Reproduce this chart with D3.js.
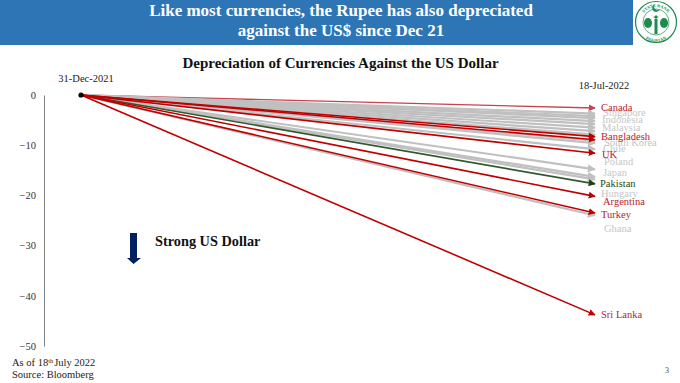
<!DOCTYPE html>
<html><head><meta charset="utf-8">
<script src="https://cdn.jsdelivr.net/npm/d3@7/dist/d3.min.js"></script>
<style>html,body{margin:0;padding:0;background:#fff}svg{display:block}text{font-family:"Liberation Serif",serif}</style>
</head><body><div id="c"></div>
<script>
const startLabel = "31-Dec-2021";
const endLabel = "18-Jul-2022";
const yTicks = [0,-10,-20,-30,-40,-50];
const greyNames = ["Singapore","Indonesia","Malaysia","South Korea","Chile","Poland","Japan","Hungary","Ghana","","","","","",""];
const greyValues = [-3.7,-4.6,-5.8,-9.6,-10.8,-14.8,-16.3,-16.8,-24.0,-4.2,-5.2,-6.5,-7.2,-7.9,-9.1];
const redNames = ["Bangladesh","","UK","Argentina","Turkey","Sri Lanka"];
const redValues = [-8.3,-8.9,-11.6,-20.2,-23.5,-43.8];
const canadaNames = ["Canada"];
const canadaValues = [-2.6];
const greenNames = ["Pakistan"];
const greenValues = [-17.7];

const W=680,H=383;
const svg=d3.select("#c").append("svg").attr("width",W).attr("height",H);
const y=d3.scaleLinear().domain([0,-50]).range([95,346]);
const x=d3.scaleLinear().domain([0,1]).range([81,595]);

// header
svg.append("rect").attr("x",0).attr("y",0).attr("width",633).attr("height",45).attr("fill","#2e75b6");
svg.append("text").attr("x",341).attr("y",16).attr("text-anchor","middle").attr("fill","#fff")
  .attr("font-size",17).attr("font-weight","bold").text("Like most currencies, the Rupee has also depreciated");
svg.append("text").attr("x",341).attr("y",36).attr("text-anchor","middle").attr("fill","#fff")
  .attr("font-size",17).attr("font-weight","bold").text("against the US$ since Dec 21");

// logo seal
const logo=svg.append("g").attr("transform","translate(656,22)");
const G="#1d8a4e";
logo.append("circle").attr("r",20.5).attr("fill","#fff").attr("stroke",G).attr("stroke-width",1.2);
logo.append("circle").attr("r",13).attr("fill","none").attr("stroke",G).attr("stroke-width",0.7);
logo.append("path").attr("d","M-1.5,12V-3H1.5V12Z").attr("fill",G);
logo.append("ellipse").attr("cx",-8).attr("cy",1).attr("rx",4).attr("ry",5).attr("fill",G);
logo.append("ellipse").attr("cx",8).attr("cy",1).attr("rx",4).attr("ry",5).attr("fill",G);
logo.append("path").attr("d","M-6,-8L0,-3L6,-8L2,-5L0,-7L-2,-5Z").attr("fill",G);
logo.append("path").attr("d","M-1,-18A4,4 0 1,0 4,-13A3.4,3.4 0 1,1 -1,-18Z").attr("fill",G);
logo.append("path").attr("id","sealTop").attr("d","M-15,0A15,15 0 0,1 15,0").attr("fill","none");
logo.append("path").attr("id","sealBot").attr("d","M-18,2A18,18 0 0,0 18,2").attr("fill","none");
logo.append("text").attr("font-size",4.4).attr("font-weight","bold").attr("fill",G)
  .append("textPath").attr("href","#sealTop").attr("startOffset","50%").attr("text-anchor","middle").text("STATE        BANK");
logo.append("text").attr("font-size",4.4).attr("font-weight","bold").attr("fill",G)
  .append("textPath").attr("href","#sealBot").attr("startOffset","50%").attr("text-anchor","middle").text("PAKISTAN");

// chart title
svg.append("text").attr("x",340.5).attr("y",68).attr("text-anchor","middle").attr("font-size",15)
  .attr("font-weight","bold").attr("fill","#111").text("Depreciation of Currencies Against the US Dollar");

// axis
const ax=svg.append("g").attr("transform","translate(44,0)")
  .call(d3.axisLeft(y).tickValues(yTicks).tickSize(0).tickPadding(8).tickFormat(d3.format("d")));
ax.select(".domain").attr("stroke","#7f7f7f").attr("stroke-width",1);
ax.selectAll("text").attr("font-size",10.5).attr("fill","#333").style("font-family",'"Liberation Serif",serif');

svg.append("text").attr("x",86).attr("y",82).attr("text-anchor","middle").attr("font-size",10.5).attr("fill","#222").text(startLabel);
svg.append("text").attr("x",604).attr("y",89).attr("text-anchor","middle").attr("font-size",10.5).attr("fill","#222").text(endLabel);

// arrow markers
const defs=svg.append("defs");
function marker(id,c,s){
  defs.append("marker").attr("id",id).attr("viewBox","0 0 10 10").attr("refX",9).attr("refY",5)
    .attr("markerUnits","userSpaceOnUse").attr("markerWidth",s).attr("markerHeight",s).attr("orient","auto")
    .append("path").attr("d","M0,0L10,5L0,10Z").attr("fill",c);
}
const RED="#c00000",GREY="#c0c0c0",GREEN="#2f5a2e";
marker("mg",GREY,8);marker("mr",RED,7);marker("mn","#1f3f1e",7);marker("mc","#c9404e",7);

function lines(vals,col,w,m){
  svg.append("g").selectAll("line").data(vals).join("line")
    .attr("x1",x(0)).attr("y1",y(0)).attr("x2",x(1)).attr("y2",d=>y(d))
    .attr("stroke",col).attr("stroke-width",w).attr("marker-end",`url(#${m})`);
}
lines(canadaValues,"#c9404e",1.4,"mc");
lines(greyValues,GREY,2.2,"mg");
lines(greenValues,GREEN,1.6,"mn");
lines(redValues,RED,1.6,"mr");
svg.append("circle").attr("cx",x(0)).attr("cy",y(0)).attr("r",2.6).attr("fill","#000");

// series labels: layout nudges in px, so crowded names sit as they do in the source
const nudge={Canada:[6,0],Singapore:[8,-1],Indonesia:[7,2],Malaysia:[7,4],Bangladesh:[6,0],"South Korea":[9,-1],
 Chile:[8,-1],UK:[7,1],Poland:[9,-8],Japan:[8,-4],Pakistan:[5,0],Hungary:[6,14],Argentina:[8,5],Turkey:[6,2],Ghana:[9,13],"Sri Lanka":[6,0]};
function labels(names,vals,col){
  names.forEach((n,i)=>{ if(!n) return;
    const d=nudge[n];
    svg.append("text").attr("x",x(1)+d[0]).attr("y",y(vals[i])+d[1]).attr("dy","0.32em")
      .attr("font-size",10.5).attr("fill",col).text(n);
  });
}
labels(greyNames,greyValues,"#c6c6c6");
labels(greenNames,greenValues,"#1f4a20");
labels(canadaNames,canadaValues,"#b8212f");
labels(redNames,redValues,"#b8212f");

// strong-dollar arrow
svg.append("path").attr("d",d3.line()([[130,233],[137,233],[137,258],[141,258],[133.5,264],[127,258],[130,258]])+"Z").attr("fill","#002060");
svg.append("text").attr("x",155).attr("y",246).attr("font-size",14.3).attr("font-weight","bold").attr("fill","#111").text("Strong US Dollar");

// footer
const f=svg.append("text").attr("x",12).attr("y",366).attr("font-size",10.5).attr("fill","#222");
f.append("tspan").text("As of 18");
f.append("tspan").attr("dy",-3).attr("font-size",6.5).text("th");
f.append("tspan").attr("dy",3).attr("dx",1).text("July 2022");
svg.append("text").attr("x",12).attr("y",378).attr("font-size",10.5).attr("fill","#222").text("Source: Bloomberg");
svg.append("text").attr("x",667).attr("y",373).attr("text-anchor","middle").attr("font-size",8).attr("fill","#444").text("3");
</script></body></html>
